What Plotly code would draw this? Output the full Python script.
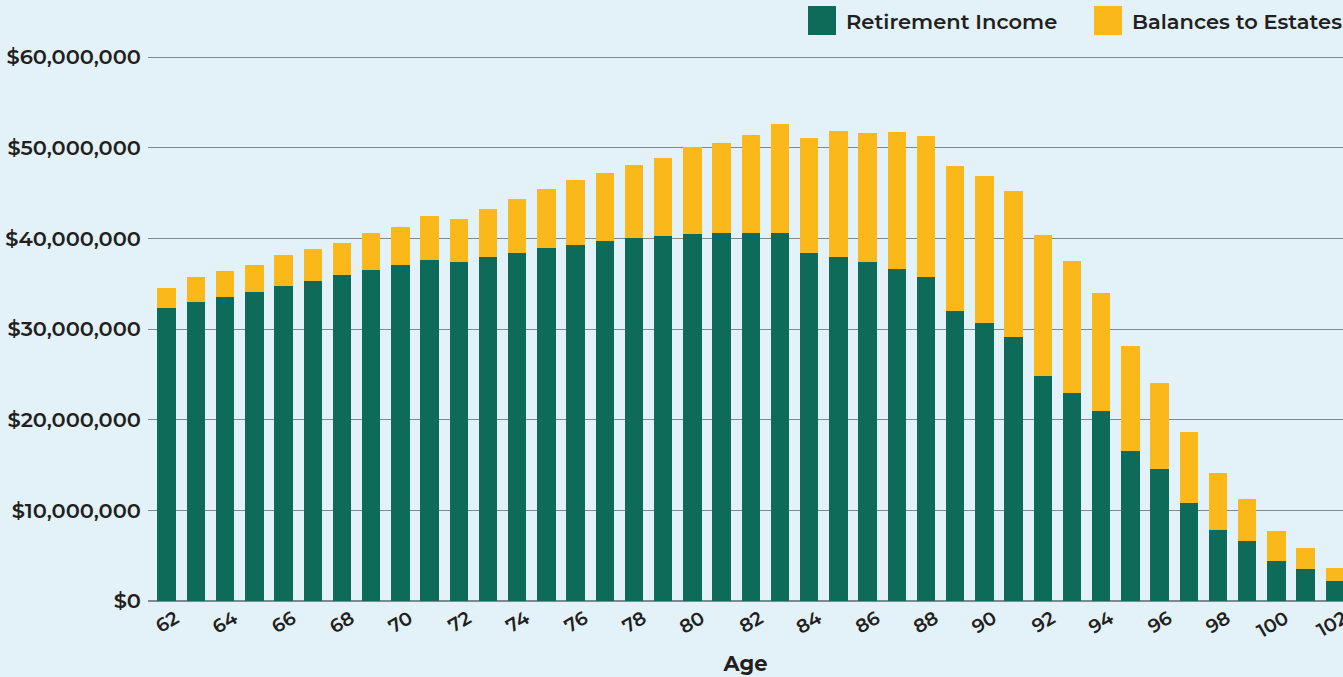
import plotly.graph_objects as go

ages = list(range(62, 103))
retirement_income = [32.32, 32.98, 33.53, 34.08, 34.74, 35.29, 35.95, 36.51, 37.06, 37.61,
                     37.39, 37.94, 38.38, 38.93, 39.26, 39.70, 40.04, 40.26, 40.48, 40.59,
                     40.59, 40.59, 38.38, 37.94, 37.39, 36.62, 35.73, 31.98, 30.66, 29.12,
                     24.82, 22.94, 20.96, 16.54, 14.56, 10.81, 7.83, 6.62, 4.41, 3.53, 2.21]
totals = [34.52, 35.73, 36.40, 37.06, 38.16, 38.82, 39.48, 40.59, 41.25, 42.46,
          42.13, 43.23, 44.34, 45.44, 46.43, 47.20, 48.09, 48.86, 50.07, 50.51,
          51.40, 52.61, 51.07, 51.84, 51.62, 51.73, 51.29, 47.98, 46.87, 45.22,
          40.37, 37.50, 33.97, 28.12, 24.04, 18.64, 14.12, 11.25, 7.72, 5.85, 3.64]
balances_to_estates = [round(t - r, 2) for t, r in zip(totals, retirement_income)]

series_names = ["Retirement Income", "Balances to Estates"]
colors = ["#0E6B5A", "#FAB81B"]
ytick_vals = [0, 10e6, 20e6, 30e6, 40e6, 50e6, 60e6]
ytick_text = ["$0", "$10,000,000", "$20,000,000", "$30,000,000", "$40,000,000", "$50,000,000", "$60,000,000"]
xtick_vals = list(range(62, 103, 2))

FONT = "Montserrat, 'DejaVu Sans', sans-serif"
TXT = "#231F20"
BG = "#E3F2F8"
GRID = "#7F8790"

fig = go.Figure()
fig.add_trace(go.Bar(x=ages, y=[v * 1e6 for v in retirement_income], name=series_names[0],
                     marker=dict(color=colors[0], line=dict(width=0)), showlegend=False))
fig.add_trace(go.Bar(x=ages, y=[v * 1e6 for v in balances_to_estates], name=series_names[1],
                     marker=dict(color=colors[1], line=dict(width=0)), showlegend=False))

fig.update_layout(
    barmode="stack",
    bargap=0.37,
    width=1343, height=677,
    paper_bgcolor=BG, plot_bgcolor=BG,
    margin=dict(l=148, r=0, t=55, b=76),
    font=dict(family=FONT, color=TXT, size=20),
    xaxis=dict(
        range=[61.36, 102.28], automargin=False,
        tickmode="array", tickvals=xtick_vals, ticktext=[str(v) for v in xtick_vals],
        tickangle=-30, showgrid=False, zeroline=False, showline=False,
        ticks="", ticklabelshift=9, ticklabelstandoff=2, ticklabeloverflow="allow",
        tickfont=dict(family=FONT, size=19, color=TXT, weight=600),
        title=dict(text="Age", font=dict(family=FONT, size=21, color=TXT, weight=700), standoff=14),
    ),
    yaxis=dict(
        range=[0, 60e6 * 546 / 544], automargin=False,
        tickmode="array", tickvals=ytick_vals, ticktext=ytick_text,
        showgrid=True, gridcolor=GRID, gridwidth=1.3,
        zeroline=True, zerolinecolor=GRID, zerolinewidth=1.6,
        ticks="", ticklabelstandoff=6,
        tickfont=dict(family=FONT, size=21, color=TXT, weight=600),
    ),
    showlegend=False,
)

# custom legend with larger swatches (paper coords: plot area spans y 55..601 px)
legend_x = [808, 1094]
for name, col, lx in zip(series_names, colors, legend_x):
    fig.add_shape(type="rect", xref="paper", yref="paper",
                  x0=(lx - 148) / 1195, x1=(lx + 28 - 148) / 1195,
                  y0=(601 - 35) / 546, y1=(601 - 6) / 546,
                  fillcolor=col, line=dict(width=0))
    fig.add_annotation(xref="paper", yref="paper", x=(lx + 36 - 148) / 1195, y=(601 - 21) / 546,
                       text=name, showarrow=False, xanchor="left", yanchor="middle",
                       font=dict(family=FONT, size=21, color=TXT, weight=600))

fig.write_html("out.html", config={"displayModeBar": False})
with open("out.html", "r", encoding="utf-8") as f:
    html = f.read()
html = html.replace("<head>", "<head><style>html,body{margin:0;padding:0;overflow:hidden;background:#E3F2F8;}</style>", 1)
with open("out.html", "w", encoding="utf-8") as f:
    f.write(html)
